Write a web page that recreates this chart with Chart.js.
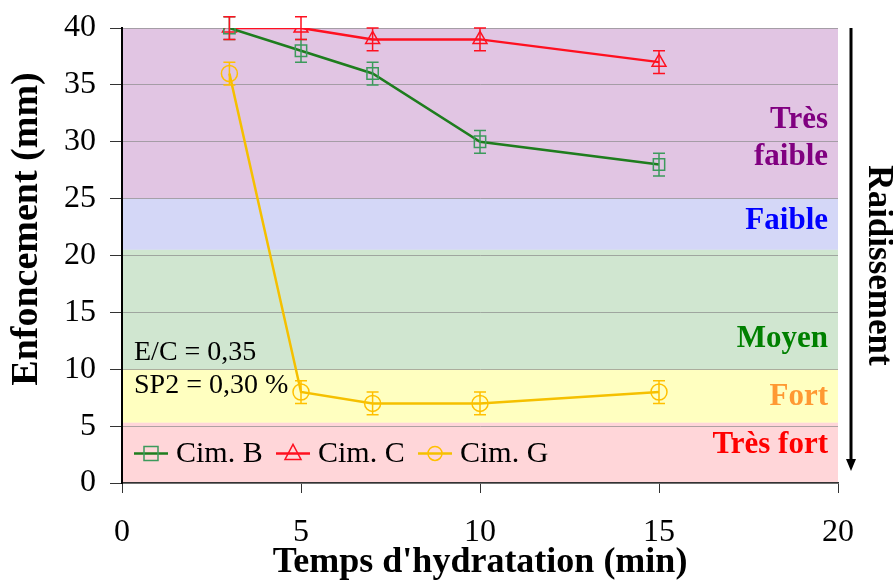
<!DOCTYPE html>
<html>
<head>
<meta charset="utf-8">
<script src="https://cdn.jsdelivr.net/npm/chart.js@4.4.1/dist/chart.umd.min.js"></script>
<style>
  html, body { margin: 0; padding: 0; background: #fff; }
  #wrap { width: 893px; height: 584px; position: relative; }
</style>
</head>
<body>
<div id="wrap"><canvas id="chart" width="893" height="584"></canvas></div>
<script>
const times = [3, 5, 7, 10, 15];
const cimB = [40, 38, 36, 30, 28];
const cimC = [40, 40, 39, 39, 37];
const cimG = [36, 8, 7, 7, 8];
const errB = [1, 1, 1, 1, 1];
const errC = [1, 1, 1, 1, 1];
const errG = [1, 1, 1, 1, 1];

// stiffening zones (y ranges) and their labels
const zoneFrom = [25, 20.5, 10, 5.3, 0];
const zoneTo = [40, 25, 20.5, 10, 5.3];
const zoneLabels = [['Très', 'faible'], ['Faible'], ['Moyen'], ['Fort'], ['Très fort']];
const zoneLabelValues = [[31.9, 28.7], [23.0], [12.7], [7.6], [3.3]];

const zoneFill = ['rgba(196,140,200,0.5)', 'rgba(170,175,240,0.5)', 'rgba(170,210,170,0.55)', 'rgba(255,255,150,0.6)', 'rgba(255,180,185,0.55)'];
const zoneText = ['#800080', '#0000ff', '#008000', '#ff9933', '#ff0000'];
const serif = '"Liberation Serif", "Times New Roman", serif';

const zonesPlugin = {
    id: 'zones',
    beforeDraw(chart) {
        const { ctx, chartArea: a, scales: { y } } = chart;
        ctx.save();
        zoneFrom.forEach((v, i) => {
            const top = y.getPixelForValue(zoneTo[i]);
            const bot = y.getPixelForValue(v);
            ctx.fillStyle = zoneFill[i];
            ctx.fillRect(a.left, top, a.right - a.left, bot - top);
        });
        ctx.restore();
    },
    afterDatasetsDraw(chart) {
        const { ctx, chartArea: a, scales: { y } } = chart;
        ctx.save();
        ctx.font = 'bold 31px ' + serif;
        ctx.textAlign = 'right';
        ctx.textBaseline = 'middle';
        zoneLabels.forEach((lines, i) => {
            ctx.fillStyle = zoneText[i];
            lines.forEach((t, j) => ctx.fillText(t, a.right - 10, y.getPixelForValue(zoneLabelValues[i][j])));
        });

        // notes
        ctx.fillStyle = '#000';
        ctx.font = '28px ' + serif;
        ctx.textAlign = 'left';
        ctx.fillText('E/C = 0,35', a.left + 12, y.getPixelForValue(11.5));
        ctx.fillText('SP2 = 0,30 %', a.left + 12, y.getPixelForValue(8.6));

        // y axis title, drawn by hand to sit a little above centre
        ctx.save();
        ctx.translate(27, 229);
        ctx.rotate(-Math.PI / 2);
        ctx.textAlign = 'center';
        ctx.font = 'bold 38px ' + serif;
        ctx.fillText('Enfoncement (mm)', 0, 0);
        ctx.restore();

        // arrow + Raidissement
        const ax = a.right + 13;
        ctx.strokeStyle = '#000';
        ctx.lineWidth = 3;
        ctx.beginPath();
        ctx.moveTo(ax, a.top);
        ctx.lineTo(ax, a.bottom - 22);
        ctx.stroke();
        ctx.beginPath();
        ctx.moveTo(ax - 5, a.bottom - 24);
        ctx.lineTo(ax + 5, a.bottom - 24);
        ctx.lineTo(ax, a.bottom - 12);
        ctx.closePath();
        ctx.fill();

        ctx.translate(a.right + 40, (a.top + a.bottom) / 2 + 10);
        ctx.rotate(Math.PI / 2);
        ctx.font = 'bold 35px ' + serif;
        ctx.textAlign = 'center';
        ctx.fillText('Raidissement', 0, 0);
        ctx.restore();
    }
};

const errorBarsPlugin = {
    id: 'errorBars',
    afterDatasetsDraw(chart) {
        const { ctx, scales: { x, y } } = chart;
        ctx.save();
        chart.data.datasets.forEach(ds => {
            ctx.strokeStyle = ds.pointBorderColor;
            ctx.lineWidth = 1.5;
            ds.data.forEach((p, i) => {
                const px = x.getPixelForValue(p.x);
                const hi = y.getPixelForValue(p.y + ds.err[i]);
                const lo = y.getPixelForValue(p.y - ds.err[i]);
                ctx.beginPath();
                ctx.moveTo(px, hi); ctx.lineTo(px, lo);
                ctx.moveTo(px - 6, hi); ctx.lineTo(px + 6, hi);
                ctx.moveTo(px - 6, lo); ctx.lineTo(px + 6, lo);
                ctx.stroke();
            });
        });
        ctx.restore();
    }
};

const legendPlugin = {
    id: 'insideLegend',
    afterDatasetsDraw(chart) {
        const { ctx, chartArea: a, scales: { y } } = chart;
        const ly = y.getPixelForValue(2.6);
        let lx = a.left + 12;
        ctx.save();
        ctx.font = '30px ' + serif;
        ctx.textBaseline = 'middle';
        chart.data.datasets.forEach(ds => {
            ctx.strokeStyle = ds.borderColor;
            ctx.lineWidth = 2.5;
            ctx.beginPath();
            ctx.moveTo(lx, ly); ctx.lineTo(lx + 34, ly);
            ctx.stroke();
            ctx.strokeStyle = ds.pointBorderColor;
            ctx.lineWidth = 1.5;
            const cx = lx + 17;
            ctx.beginPath();
            if (ds.pointStyle === 'rect') ctx.rect(cx - 7, ly - 7, 14, 14);
            else if (ds.pointStyle === 'triangle') { ctx.moveTo(cx, ly - 9); ctx.lineTo(cx + 8, ly + 6); ctx.lineTo(cx - 8, ly + 6); ctx.closePath(); }
            else ctx.arc(cx, ly, 7, 0, Math.PI * 2);
            ctx.stroke();
            ctx.fillStyle = '#000';
            ctx.fillText(ds.label, lx + 42, ly + 1);
            lx += 142;
        });
        ctx.restore();
    }
};

function series(label, values, err, line, marker, style) {
    return {
        label: label,
        data: values.map((v, i) => ({ x: times[i], y: v })),
        err: err,
        borderColor: line,
        borderWidth: 2.5,
        pointStyle: style,
        pointRadius: 8,
        pointBorderColor: marker,
        pointBackgroundColor: 'rgba(0,0,0,0)',
        pointBorderWidth: 1.5,
        tension: 0,
        fill: false
    };
}

new Chart(document.getElementById('chart').getContext('2d'), {
    type: 'line',
    data: {
        datasets: [
            series('Cim. B', cimB, errB, '#1e7d1e', '#3c9a5c', 'rect'),
            series('Cim. C', cimC, errC, '#ff1020', '#ff1020', 'triangle'),
            series('Cim. G', cimG, errG, '#f5c000', '#ffc000', 'circle')
        ]
    },
    options: {
        responsive: false,
        animation: false,
        layout: { padding: { top: 0, right: 55, left: 0, bottom: 0 } },
        plugins: { legend: { display: false }, tooltip: { enabled: false } },
        scales: {
            x: {
                type: 'linear',
                min: 0, max: 20,
                ticks: { stepSize: 5, color: '#000', padding: 20, font: { family: serif, size: 32 } },
                grid: { drawOnChartArea: false, drawTicks: true, tickLength: 10, color: '#333', lineWidth: 1 },
                border: { color: '#333', width: 1.5 },
                title: { display: true, text: "Temps d'hydratation (min)", color: '#000', padding: { top: 6, bottom: 0 }, font: { family: serif, size: 36, weight: 'bold' } },
                afterFit(s) { s.height = 101; }
            },
            y: {
                min: 0, max: 40,
                ticks: { stepSize: 5, color: '#000', padding: 14, font: { family: serif, size: 32 } },
                grid: { color: 'rgba(140,140,140,0.7)', lineWidth: 1, tickLength: 12, tickColor: '#333' },
                border: { color: '#000', width: 2 },
                afterFit(s) { s.width = 122; s.paddingTop = 28; }
            }
        }
    },
    plugins: [zonesPlugin, errorBarsPlugin, legendPlugin]
});
</script>
</body>
</html>
